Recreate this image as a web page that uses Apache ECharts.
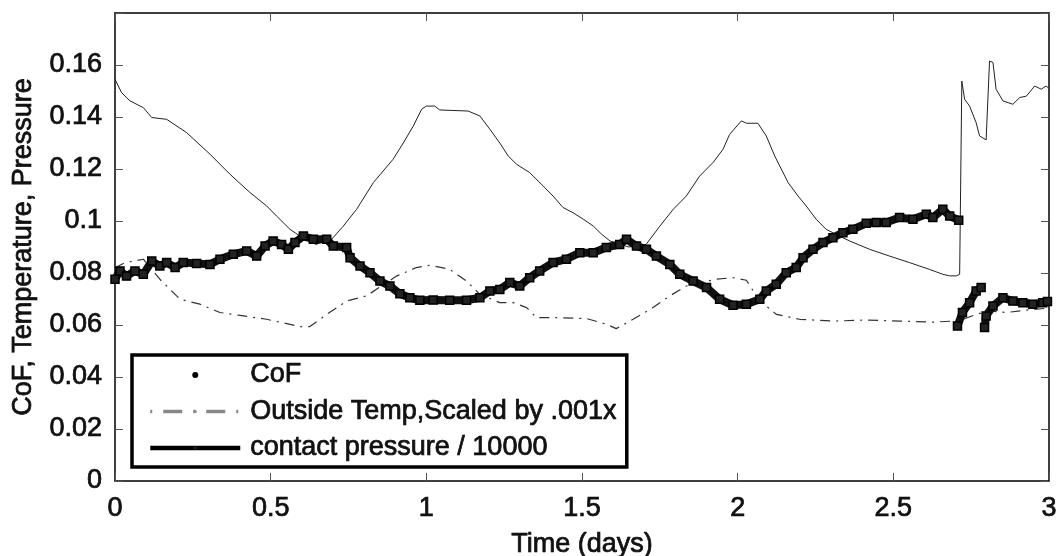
<!DOCTYPE html>
<html>
<head>
<meta charset="utf-8">
<script src="https://cdn.jsdelivr.net/npm/echarts@6/dist/echarts.min.js"></script>
<style>
html,body{margin:0;padding:0;background:#fff;}
#chart{width:1063px;height:556px;}
</style>
</head>
<body>
<div id="chart"></div>
<script>
// ---- data ----
const xTicks = [0, 0.5, 1, 1.5, 2, 2.5, 3];
const yTicks = [0, 0.02, 0.04, 0.06, 0.08, 0.1, 0.12, 0.14, 0.16];

const seriesNames = ['CoF', 'Outside Temp,Scaled by .001x', 'contact pressure / 10000'];

const pressureT = [0, 0.021, 0.048, 0.091, 0.118, 0.166, 0.230, 0.305, 0.369, 0.433, 0.487, 0.519, 0.562, 0.594, 0.645, 0.696, 0.733, 0.776, 0.830, 0.893, 0.926, 0.958, 0.985, 1.0, 1.027, 1.043, 1.134, 1.172, 1.204, 1.236, 1.263, 1.290, 1.332, 1.375, 1.407, 1.439, 1.471, 1.504, 1.536, 1.563, 1.590, 1.650, 1.706, 1.750, 1.793, 1.835, 1.878, 1.921, 1.953, 1.974, 2.012, 2.028, 2.065, 2.092, 2.119, 2.135, 2.162, 2.194, 2.220, 2.252, 2.284, 2.327, 2.360, 2.424, 2.488, 2.552, 2.616, 2.659, 2.681, 2.702, 2.713, 2.720, 2.729, 2.745, 2.766, 2.777, 2.798, 2.809, 2.820, 2.830, 2.852, 2.884, 2.906, 2.927, 2.954, 2.975, 2.991, 3.0];
const pressureV = [0.1545, 0.1494, 0.1462, 0.1436, 0.1398, 0.1391, 0.134, 0.1257, 0.118, 0.111, 0.1058, 0.1019, 0.0968, 0.0942, 0.091, 0.093, 0.098, 0.1045, 0.1148, 0.1237, 0.130, 0.1365, 0.143, 0.1442, 0.1442, 0.1427, 0.1423, 0.1404, 0.1353, 0.130, 0.125, 0.1218, 0.1186, 0.1135, 0.1096, 0.1052, 0.1032, 0.1007, 0.0981, 0.0949, 0.0923, 0.090, 0.091, 0.098, 0.1045, 0.1096, 0.1173, 0.1225, 0.1276, 0.1333, 0.1385, 0.1376, 0.1376, 0.1327, 0.125, 0.1212, 0.1148, 0.1096, 0.1058, 0.1007, 0.0968, 0.0942, 0.0923, 0.0891, 0.0865, 0.084, 0.0814, 0.0795, 0.0789, 0.0789, 0.0795, 0.1538, 0.1468, 0.1442, 0.1378, 0.1327, 0.1312, 0.1615, 0.161, 0.1507, 0.1462, 0.1449, 0.1475, 0.148, 0.1519, 0.1507, 0.1519, 0.151];

const tempT = [0, 0.032, 0.091, 0.144, 0.171, 0.209, 0.273, 0.337, 0.401, 0.487, 0.594, 0.626, 0.680, 0.744, 0.808, 0.904, 0.968, 1.011, 1.075, 1.129, 1.172, 1.236, 1.279, 1.322, 1.354, 1.418, 1.514, 1.578, 1.610, 1.664, 1.728, 1.782, 1.835, 1.931, 1.985, 2.028, 2.050, 2.092, 2.124, 2.199, 2.306, 2.413, 2.520, 2.627, 2.691, 2.720, 2.766, 2.809, 2.862, 2.948, 3.0];
const tempV = [0.082, 0.084, 0.0853, 0.0776, 0.0744, 0.0699, 0.068, 0.0648, 0.0637, 0.0622, 0.0594, 0.0594, 0.0641, 0.0692, 0.0712, 0.0788, 0.0821, 0.083, 0.0814, 0.0769, 0.0718, 0.0686, 0.0686, 0.0667, 0.0628, 0.0628, 0.0625, 0.0603, 0.0586, 0.0622, 0.0667, 0.0712, 0.075, 0.0776, 0.0782, 0.0772, 0.0731, 0.0673, 0.0641, 0.0622, 0.0615, 0.0619, 0.0615, 0.0611, 0.0615, 0.062, 0.0641, 0.0654, 0.0648, 0.066, 0.0665];

const cofT = [0, 0.016, 0.037, 0.064, 0.091, 0.118, 0.144, 0.166, 0.193, 0.219, 0.262, 0.305, 0.337, 0.380, 0.423, 0.455, 0.482, 0.508, 0.535, 0.557, 0.578, 0.605, 0.637, 0.680, 0.701, 0.744, 0.755, 0.787, 0.819, 0.851, 0.883, 0.915, 0.947, 0.979, 1.022, 1.075, 1.129, 1.172, 1.204, 1.236, 1.268, 1.300, 1.332, 1.364, 1.407, 1.450, 1.493, 1.536, 1.578, 1.621, 1.643, 1.675, 1.707, 1.739, 1.782, 1.814, 1.857, 1.900, 1.942, 1.985, 2.028, 2.071, 2.092, 2.124, 2.156, 2.188, 2.210, 2.242, 2.274, 2.306, 2.338, 2.370, 2.413, 2.445, 2.477, 2.520, 2.563, 2.606, 2.627, 2.659, 2.681, 2.710, 2.7101, 2.706, 2.722, 2.745, 2.766, 2.782, 2.7821, 2.793, 2.798, 2.820, 2.852, 2.884, 2.916, 2.948, 2.980, 2.995];
const cofV = [0.0776, 0.0808, 0.0788, 0.0808, 0.0795, 0.0846, 0.0827, 0.084, 0.0821, 0.084, 0.0837, 0.0833, 0.0853, 0.0872, 0.0885, 0.0865, 0.0904, 0.0923, 0.091, 0.0891, 0.0917, 0.0942, 0.093, 0.093, 0.0904, 0.0898, 0.0859, 0.0827, 0.0801, 0.0769, 0.075, 0.072, 0.0705, 0.0695, 0.0696, 0.0695, 0.0695, 0.0705, 0.0731, 0.0737, 0.0763, 0.075, 0.0782, 0.0808, 0.084, 0.0853, 0.0878, 0.0878, 0.0898, 0.091, 0.093, 0.0904, 0.0891, 0.0865, 0.0833, 0.0795, 0.0769, 0.0744, 0.0699, 0.0676, 0.068, 0.0699, 0.0731, 0.0757, 0.0801, 0.0821, 0.0859, 0.0891, 0.0917, 0.0936, 0.0955, 0.0968, 0.0991, 0.0994, 0.0994, 0.1013, 0.1007, 0.1026, 0.1013, 0.1045, 0.1019, 0.1003, null, 0.0596, 0.0648, 0.0686, 0.0731, 0.0744, null, 0.059, 0.0635, 0.0673, 0.0705, 0.0692, 0.0686, 0.068, 0.0686, 0.069];

// ---- build ----
const zip = (a, b) => a.map((t, i) => [t, b[i] === null ? '-' : b[i]]);
const FONT = "'Liberation Sans', Arial, Helvetica, sans-serif";
const FS = 27;
const txt = {fontFamily: FONT, fontSize: FS, color: '#111', textBorderColor: '#000', textBorderWidth: 0.7};

const chart = echarts.init(document.getElementById('chart'), null, {renderer: 'canvas'});

const tickFmt = v => {
  const r = Math.round(v * 1000) / 1000;
  return yTicks.some(t => Math.abs(t - r) < 1e-9) ? String(parseFloat(r.toFixed(2))) : '';
};
const xFmt = v => {
  const r = Math.round(v * 1000) / 1000;
  return xTicks.some(t => Math.abs(t - r) < 1e-9) ? String(r) : '';
};

const axisCommon = {
  axisLine: {show: true, onZero: false, lineStyle: {color: '#000', width: 1.5}},
  axisTick: {show: true, inside: true, length: 8, lineStyle: {color: '#555', width: 1}},
  splitLine: {show: false}
};

chart.setOption({
  animation: false,
  backgroundColor: '#fff',
  grid: {left: 115, right: 14, top: 13, bottom: 75, containLabel: false, outerBoundsMode: 'none'},
  xAxis: [
    Object.assign({
      type: 'value', min: 0, max: 3, interval: 0.5, position: 'bottom',
      name: 'Time (days)', nameLocation: 'middle', nameGap: 50,
      nameTextStyle: Object.assign({}, txt),
      axisLabel: Object.assign({margin: 14, formatter: xFmt}, txt)
    }, axisCommon),
    Object.assign({
      type: 'value', min: 0, max: 3, interval: 0.5, position: 'top',
      axisLabel: {show: false}
    }, axisCommon)
  ],
  yAxis: [
    Object.assign({
      type: 'value', min: 0, max: 0.18, interval: 0.02, position: 'left',
      name: 'CoF, Temperature, Pressure', nameLocation: 'middle', nameGap: 78,
      nameTextStyle: Object.assign({}, txt),
      axisLabel: Object.assign({margin: 13, formatter: tickFmt}, txt)
    }, axisCommon),
    Object.assign({
      type: 'value', min: 0, max: 0.18, interval: 0.02, position: 'right',
      axisLabel: {show: false}
    }, axisCommon)
  ],
  legend: {
    orient: 'vertical', left: 132, top: 355,
    backgroundColor: '#fff', borderColor: '#000', borderWidth: 3.5, borderRadius: 0,
    padding: [5, 10, 4, 16],
    itemWidth: 90, itemHeight: 4, itemGap: 6.5,
    textStyle: Object.assign({lineHeight: 30, padding: [0, 0, 0, 5]}, txt),
    data: [
      {name: seriesNames[0], icon: 'circle', itemStyle: {color: '#000'}},
      {name: seriesNames[1], lineStyle: {color: '#888', width: 3.5, type: [2, 11, 19, 11]}},
      {name: seriesNames[2], lineStyle: {color: '#000', width: 4.5, type: 'solid'}}
    ]
  },
  series: [
    {
      name: seriesNames[2], type: 'line', xAxisIndex: 0, yAxisIndex: 0,
      data: zip(pressureT, pressureV), symbol: 'none', z: 2,
      lineStyle: {color: '#222', width: 1}, itemStyle: {color: '#222'}
    },
    {
      name: seriesNames[1], type: 'line', xAxisIndex: 0, yAxisIndex: 0,
      data: zip(tempT, tempV), symbol: 'none', z: 3,
      lineStyle: {color: '#333', width: 1.2, type: [10, 6, 2, 6]}, itemStyle: {color: '#888'}
    },
    {
      name: seriesNames[0], type: 'line', xAxisIndex: 0, yAxisIndex: 0,
      data: zip(cofT, cofV), connectNulls: false, z: 4,
      symbol: 'rect', symbolSize: 8, showSymbol: true, showAllSymbol: true,
      lineStyle: {color: '#111', width: 8, join: 'round', cap: 'round'},
      itemStyle: {color: '#222', borderColor: '#000', borderWidth: 1.5}
    }
  ]
});
</script>
</body>
</html>
